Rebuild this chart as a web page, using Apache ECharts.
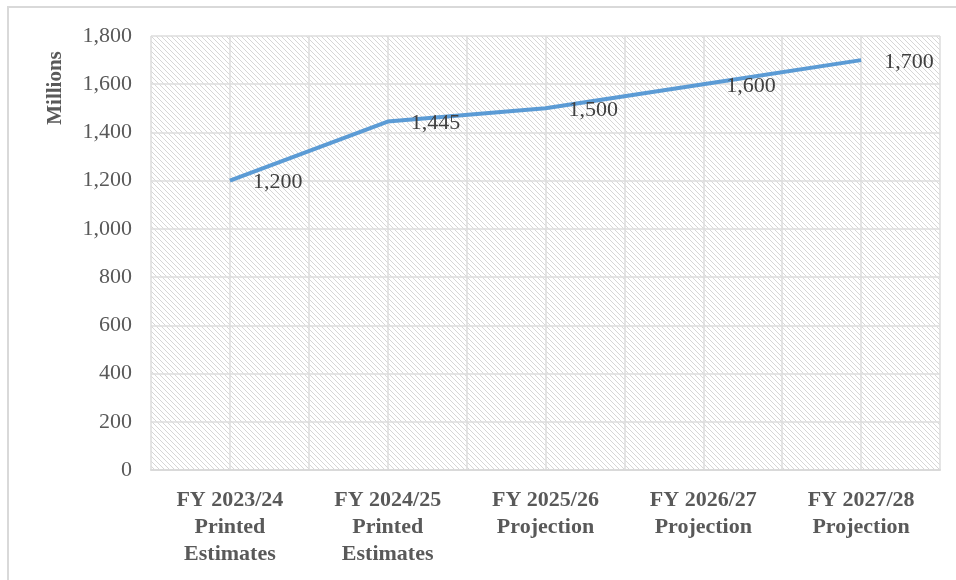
<!DOCTYPE html>
<html>
<head>
<meta charset="utf-8">
<script src="https://cdn.jsdelivr.net/npm/echarts@6/dist/echarts.min.js"></script>
<style>
  html, body { margin: 0; padding: 0; background: #fff; }
  #chart { width: 956px; height: 580px; }
</style>
</head>
<body>
<div id="chart"></div>
<script>
// Fiscal years shown along the bottom axis
const categories = [
  'FY 2023/24\nPrinted\nEstimates',
  'FY 2024/25\nPrinted\nEstimates',
  'FY 2025/26\nProjection',
  'FY 2026/27\nProjection',
  'FY 2027/28\nProjection'
];
// Amounts in millions
const values = [1200, 1445, 1500, 1600, 1700];
// Value-axis ticks
const yTicks = [0, 200, 400, 600, 800, 1000, 1200, 1400, 1600, 1800];

// Diagonal hatch fill for the plot area
function hatchPattern() {
  const s = 5;
  const c = document.createElement('canvas');
  c.width = s; c.height = s;
  const g = c.getContext('2d');
  g.fillStyle = '#ffffff';
  g.fillRect(0, 0, s, s);
  g.strokeStyle = '#d6d6d6';
  g.lineWidth = 1;
  g.beginPath();
  g.moveTo(-1, -1); g.lineTo(s + 1, s + 1);
  g.moveTo(-1, s - 1); g.lineTo(1, s + 1);
  g.moveTo(s - 1, -1); g.lineTo(s + 1, 1);
  g.stroke();
  return { image: c, repeat: 'repeat' };
}

const serif = '"Liberation Serif", "Times New Roman", serif';
const chart = echarts.init(document.getElementById('chart'));

chart.setOption({
  animation: false,
  grid: {
    left: 151, right: 16, top: 36, bottom: 110,
    show: true,
    backgroundColor: hatchPattern(),
    borderWidth: 0
  },
  graphic: [
    {
      type: 'rect',
      shape: { x: 8, y: 7, width: 1200, height: 1200 },
      style: { fill: 'none', stroke: '#d9d9d9', lineWidth: 2 },
      silent: true
    },
    {
      type: 'text',
      x: 56, y: 88,
      rotation: Math.PI / 2,
      style: {
        text: 'Millions',
        font: 'bold 21px ' + serif,
        fill: '#595959',
        align: 'center',
        verticalAlign: 'middle'
      }
    }
  ],
  xAxis: [
    {
      type: 'category',
      data: categories,
      boundaryGap: true,
      axisLine: { show: true, lineStyle: { color: '#d9d9d9', width: 2 } },
      axisTick: { show: false },
      splitLine: { show: false },
      axisLabel: {
        color: '#595959',
        fontFamily: serif,
        fontWeight: 'bold',
        fontSize: 22,
        lineHeight: 27,
        margin: 17,
        interval: 0
      }
    },
    {
      // gridline-only axis: lines at category edges and centres
      type: 'value',
      position: 'bottom',
      min: 0, max: 10, interval: 1,
      axisLine: { show: false },
      axisTick: { show: false },
      axisLabel: { show: false },
      splitLine: { show: true, lineStyle: { color: '#dcdcdc', width: 1.5 } }
    }
  ],
  yAxis: {
    type: 'value',
    min: yTicks[0],
    max: yTicks[yTicks.length - 1],
    interval: 200,
    axisLine: { show: false },
    axisTick: { show: false },
    splitLine: { show: true, lineStyle: { color: '#dcdcdc', width: 1.5 } },
    axisLabel: {
      color: '#595959',
      fontFamily: serif,
      fontSize: 22,
      margin: 19,
      formatter: v => v.toLocaleString('en-US')
    }
  },
  series: [{
    type: 'line',
    xAxisIndex: 0,
    data: values,
    symbol: 'circle',
    symbolSize: 0.1,
    showSymbol: true,
    lineStyle: { color: '#5b9bd5', width: 4 },
    itemStyle: { color: '#5b9bd5' },
    label: {
      show: true,
      position: 'right',
      distance: 23,
      offset: [0, 2],
      color: '#404040',
      fontFamily: serif,
      fontSize: 22,
      formatter: p => p.value.toLocaleString('en-US')
    },
    z: 3
  }]
});
</script>
</body>
</html>
